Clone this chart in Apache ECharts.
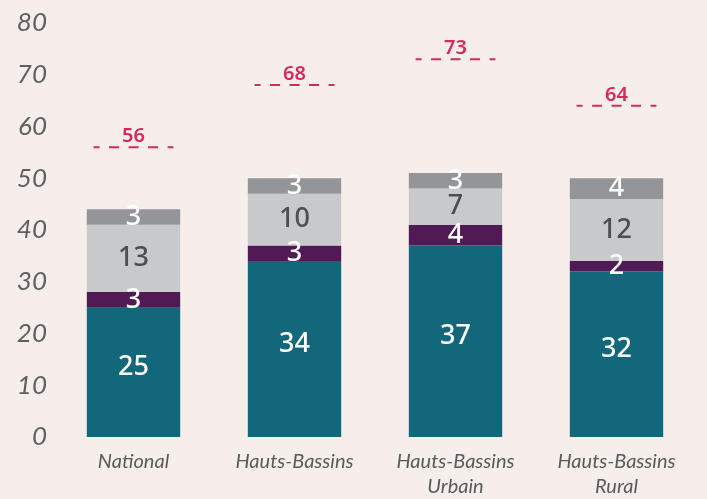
<!DOCTYPE html>
<html>
<head>
<meta charset="utf-8">
<script src="https://cdn.jsdelivr.net/npm/echarts@6/dist/echarts.min.js"></script>
<style>
  html, body { margin: 0; padding: 0; background: #f5eeeb; }
  #chart { width: 707px; height: 499px; }
</style>
</head>
<body>
<div id="chart"></div>
<script>
    const categories = ['National', 'Hauts-Bassins', 'Hauts-Bassins\nUrbain', 'Hauts-Bassins\nRural'];
    const tealValues = [25, 34, 37, 32];
    const purpleValues = [3, 3, 4, 2];
    const lightGrayValues = [13, 10, 7, 12];
    const darkGrayValues = [3, 3, 3, 4];
    const targetValues = [56, 68, 73, 64];

    const labelFont = '"Noto Sans", sans-serif';

    function stackSeries(name, data, color, textColor, dy) {
        return {
            name: name,
            type: 'bar',
            stack: 'total',
            barWidth: '58%',
            itemStyle: { color: color },
            label: {
                show: true,
                position: 'inside',
                offset: [0, dy],
                color: textColor,
                fontFamily: labelFont,
                fontWeight: 500,
                fontSize: 27
            },
            data: data
        };
    }

    const option = {
        backgroundColor: '#f5eeeb',
        animation: false,
        grid: { left: 53, right: 10, top: 23, bottom: 58 },
        xAxis: {
            type: 'category',
            data: categories,
            axisLine: { show: false },
            axisTick: { show: false },
            axisLabel: {
                margin: 12,
                color: '#5a5a5a',
                fontFamily: 'Lato',
                fontStyle: 'italic',
                fontSize: 20,
                lineHeight: 25
            }
        },
        yAxis: {
            type: 'value',
            min: 0,
            max: 80,
            interval: 10,
            splitLine: { show: false },
            axisLine: { show: false },
            axisTick: { show: false },
            axisLabel: {
                margin: 6,
                color: '#606060',
                fontFamily: 'Lato',
                fontStyle: 'italic',
                fontSize: 26,
                padding: [0, 0, 12, 0]
            }
        },
        series: [
            stackSeries('teal', tealValues, '#13677b', '#ffffff', -5),
            stackSeries('purple', purpleValues, '#521a55', '#ffffff', 0),
            stackSeries('lightGray', lightGrayValues, '#c8c9cb', '#4d4e50', 0),
            stackSeries('darkGray', darkGrayValues, '#949598', '#ffffff', 0),
            {
                name: 'target',
                type: 'custom',
                data: targetValues.map(function (v, i) { return [i, v]; }),
                renderItem: function (params, api) {
                    const p = api.coord([api.value(0), api.value(1)]);
                    const half = api.size([1, 0])[0] * 0.248;
                    return {
                        type: 'group',
                        children: [
                            {
                                type: 'line',
                                shape: { x1: p[0] - half, y1: p[1], x2: p[0] + half, y2: p[1] },
                                style: {
                                    stroke: '#d52b5c',
                                    lineWidth: 2,
                                    lineDash: [10, 9.5],
                                    lineDashOffset: 4
                                }
                            },
                            {
                                type: 'text',
                                x: p[0],
                                y: p[1] - 1,
                                style: {
                                    text: String(api.value(1)),
                                    fill: '#d52b5c',
                                    font: '600 20px "Noto Sans", sans-serif',
                                    textAlign: 'center',
                                    textVerticalAlign: 'bottom'
                                }
                            }
                        ]
                    };
                }
            }
        ]
    };

    const chart = echarts.init(document.getElementById('chart'));
    chart.setOption(option);
    window.addEventListener('resize', function () {
        chart.resize();
    });
</script>
</body>
</html>
